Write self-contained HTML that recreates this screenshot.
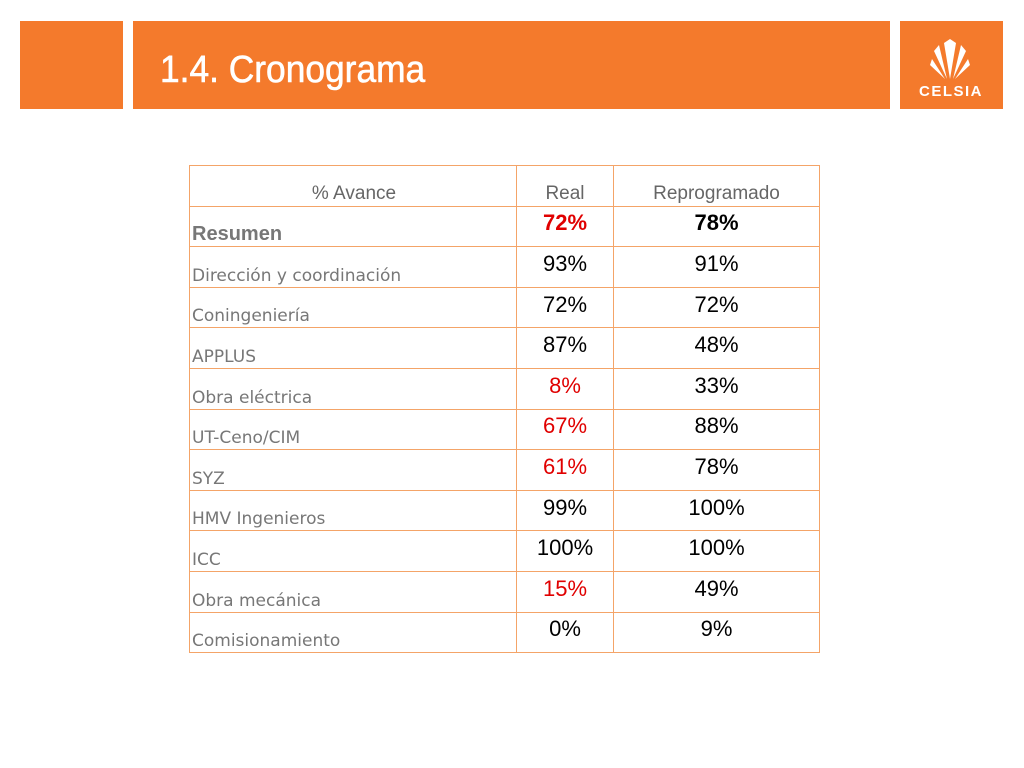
<!DOCTYPE html>
<html><head><meta charset="utf-8"><style>
body{margin:0;width:1024px;height:768px;background:#fff;position:relative;overflow:hidden;font-family:"Liberation Sans",sans-serif}
.box{position:absolute;background:#f47a2c}
table{position:absolute;left:189px;top:165px;border-collapse:collapse;table-layout:fixed;width:630px}
td{border:1.6px solid #f4a468;padding:0;height:40.6px;line-height:1;box-sizing:border-box}
td.l{width:327px;color:#777;font-family:"DejaVu Sans",sans-serif;font-size:17px;vertical-align:bottom;padding-left:2px;padding-bottom:2px}
td.v{text-align:center;font-size:22px;color:#000;vertical-align:middle;padding-bottom:6px}
td.c1{width:97px}td.c2{width:206px}
tr.h td{color:#666;font-size:19px;text-align:center;vertical-align:bottom;padding-bottom:3px}
.r{color:#e00000!important}
.b td{font-weight:bold}
</style></head><body>
<div class="box" style="left:20px;top:21px;width:103px;height:88px"></div>
<div class="box" style="left:133px;top:21px;width:757px;height:88px">
<div style="position:absolute;left:27px;top:28px;color:#fff;font-size:38px;transform:scaleX(0.93);transform-origin:left;-webkit-text-stroke:0.6px #fff;">1.4. Cronograma</div></div>
<div class="box" style="left:900px;top:21px;width:103px;height:88px">
<svg width="103" height="88"><g fill="#fff">
<path d="M50 58 L44 22 L50 18 L56 22 Z"/><path d="M47 58 L34 30 L39 24 Z"/><path d="M53 58 L66 30 L61 24 Z"/><path d="M45 58 L30 44 L32 38 Z"/><path d="M55 58 L70 44 L68 38 Z"/></g>
<text x="51" y="75" text-anchor="middle" fill="#fff" font-size="15" font-weight="bold" letter-spacing="1.5" font-family="Liberation Sans, sans-serif">CELSIA</text></svg></div>
<table>
<tr class="h"><td class="l" style="text-align:center;font-size:19px;color:#666;font-family:'Liberation Sans',sans-serif;padding-bottom:3px">% Avance</td><td class="c1">Real</td><td class="c2">Reprogramado</td></tr>
<tr class="b"><td class="l" style="font-family:'Liberation Sans',sans-serif;font-size:20px">Resumen</td><td class="v c1 r">72%</td><td class="v c2">78%</td></tr>
<tr><td class="l">Dirección y coordinación</td><td class="v c1">93%</td><td class="v c2">91%</td></tr>
<tr><td class="l">Coningeniería</td><td class="v c1">72%</td><td class="v c2">72%</td></tr>
<tr><td class="l">APPLUS</td><td class="v c1">87%</td><td class="v c2">48%</td></tr>
<tr><td class="l">Obra eléctrica</td><td class="v c1 r">8%</td><td class="v c2">33%</td></tr>
<tr><td class="l">UT-Ceno/CIM</td><td class="v c1 r">67%</td><td class="v c2">88%</td></tr>
<tr><td class="l">SYZ</td><td class="v c1 r">61%</td><td class="v c2">78%</td></tr>
<tr><td class="l">HMV Ingenieros</td><td class="v c1">99%</td><td class="v c2">100%</td></tr>
<tr><td class="l">ICC</td><td class="v c1">100%</td><td class="v c2">100%</td></tr>
<tr><td class="l">Obra mecánica</td><td class="v c1 r">15%</td><td class="v c2">49%</td></tr>
<tr><td class="l">Comisionamiento</td><td class="v c1">0%</td><td class="v c2">9%</td></tr>
</table>
</body></html>
